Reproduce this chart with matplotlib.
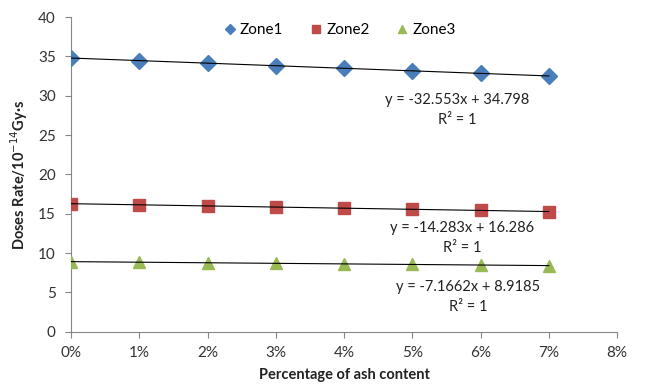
import numpy as np
import matplotlib.pyplot as plt
from matplotlib.ticker import FuncFormatter

plt.rcParams['font.family'] = ['Lato', 'DejaVu Sans']

# Dados
ash = [0.00, 0.01, 0.02, 0.03, 0.04, 0.05, 0.06, 0.07]
zone1 = [34.80, 34.47, 34.15, 33.82, 33.50, 33.17, 32.85, 32.52]
zone2 = [16.29, 16.14, 16.00, 15.86, 15.71, 15.57, 15.43, 15.29]
zone3 = [8.92, 8.85, 8.78, 8.70, 8.63, 8.56, 8.49, 8.42]
eq_labels = ["y = -32.553x + 34.798\nR\u00b2 = 1",
             "y = -14.283x + 16.286\nR\u00b2 = 1",
             "y = -7.1662x + 8.9185\nR\u00b2 = 1"]

fig = plt.figure(figsize=(6.51, 3.89), dpi=100)
ax = fig.add_axes([0.109, 0.147, 0.839, 0.809])

x = np.array(ash)
series = [(zone1, 'D', '#4a7ebb', 'Zone1', 8),
          (zone2, 's', '#be4b48', 'Zone2', 9),
          (zone3, '^', '#98b954', 'Zone3', 9)]
for y, m, c, lab, ms in series:
    ax.plot(x, y, linestyle='none', marker=m, color=c, markersize=ms,
            markeredgecolor=c, label=lab, zorder=3)
    a, b = np.polyfit(x, y, 1)
    ax.plot(x, a * x + b, color='black', linewidth=0.8, zorder=4)

# Posições das equações
pos = [(0.0566, 28.2), (0.0573, 11.9), (0.0582, 4.4)]
for (px, py), txt in zip(pos, eq_labels):
    ax.text(px, py, txt, ha='center', va='center', fontsize=10.5,
            linespacing=1.6, color='#222222')

ax.set_xlim(0, 0.08)
ax.set_ylim(0, 40)
ax.set_xticks(np.arange(0, 0.081, 0.01))
ax.set_yticks(np.arange(0, 41, 5))
ax.xaxis.set_major_formatter(FuncFormatter(lambda v, p: f"{v*100:.0f}%"))

for s in ['top', 'right']:
    ax.spines[s].set_visible(False)
for s in ['left', 'bottom']:
    ax.spines[s].set_color('#868686')
ax.tick_params(axis='both', colors='#868686', labelcolor='#333333',
               labelsize=11, length=4, direction='out')
ax.tick_params(axis='y', pad=7)
ax.tick_params(axis='x', pad=6)

ax.set_xlabel("Percentage of ash content", fontsize=10.5, fontweight='bold',
              labelpad=6, color='#222222')
ax.set_ylabel("Doses Rate/10$^{-14}$Gy\u00b7s", fontsize=10.5, fontweight='bold',
              color='#222222', labelpad=6)

ax.legend(loc='upper center', bbox_to_anchor=(0.49, 1.025), ncol=3,
          frameon=False, fontsize=11, handletextpad=0.1, columnspacing=1.6,
          handlelength=1.1, markerscale=0.7)

fig.savefig("out.png", dpi=100)
